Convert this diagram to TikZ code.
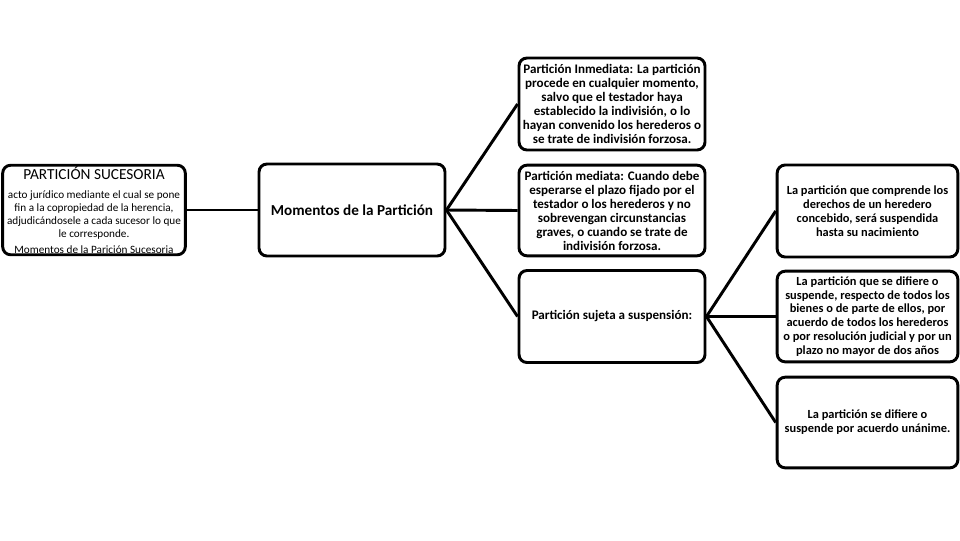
\documentclass[tikz,border=0pt]{standalone}
\usepackage{fontspec}
\setmainfont{Carlito}
\newcommand{\lbig}{\fontsize{11.5}{9.6}\selectfont}
\newcommand{\lsmall}{\fontsize{8.4}{9.6}\selectfont}
\begin{document}
\begin{tikzpicture}[x=0.75pt,y=-0.75pt,
  box/.style={draw=black,line width=2.2pt,rounded corners=6pt,align=center,inner sep=1pt,
    minimum width=138pt,minimum height=68pt},
  rbox/.style={box,minimum width=135.5pt,font=\fontsize{9.3}{10.4}\selectfont\bfseries},
  mbox/.style={box,font=\fontsize{9.8}{10.5}\selectfont\bfseries},
  conn/.style={line width=2.2pt}]
\useasboundingbox (0,0) rectangle (960,540);
\node[box,minimum width=137pt,minimum height=67pt,font=\lsmall] (L) at (94,210) {%
  \lbig PARTICIÓN SUCESORIA\\[5pt]
  \lsmall acto jurídico mediante el cual se pone\\
  \lsmall fin a la copropiedad de la herencia,\\
  \lsmall adjudicándosele a cada sucesor lo que\\
  \lsmall le corresponde.\\[2.5pt]
  \lsmall Momentos de la Parición Sucesoria};
\node[box,minimum width=139.5pt,minimum height=69pt,font=\fontsize{11.4}{13}\selectfont\bfseries] (M) at (352,210) {Momentos de la Partición};
\node[mbox,minimum width=139.5pt,minimum height=69pt] (A) at (612,104) {Partición Inmediata: La partición\\procede en cualquier momento,\\salvo que el testador haya\\establecido la indivisión, o lo\\hayan convenido los herederos o\\se trate de indivisión forzosa.};
\node[mbox,minimum width=139.5pt,minimum height=68pt] (B) at (612,210.5) {Partición mediata: Cuando debe\\esperarse el plazo fijado por el\\testador o los herederos y no\\sobrevengan circunstancias\\graves, o cuando se trate de\\indivisión forzosa.};
\node[mbox,minimum width=139.5pt,minimum height=69pt] (C) at (612,316.5) {Partición sujeta a suspensión:};
\node[rbox,minimum height=69pt] (D) at (867.5,211) {La partición que comprende los\\derechos de un heredero\\concebido, será suspendida\\hasta su nacimiento};
\node[rbox,minimum height=68pt] (E) at (867.5,316.5) {La partición que se difiere o\\suspende, respecto de todos los\\bienes o de parte de ellos, por\\acuerdo de todos los herederos\\o por resolución judicial y por un\\plazo no mayor de dos años};
\node[rbox,minimum height=68pt] (F) at (867.5,422.5) {La partición se difiere o\\suspende por acuerdo unánime.};
\draw[conn] (L.east) -- (M.west);
\draw[conn] (M.east) -- (A.west);
\draw[conn] (M.east) -- (B.west);
\draw[conn] (M.east) -- (C.west);
\draw[conn] (C.east) -- (D.west);
\draw[conn] (C.east) -- (E.west);
\draw[conn] (C.east) -- (F.west);
\end{tikzpicture}
\end{document}
